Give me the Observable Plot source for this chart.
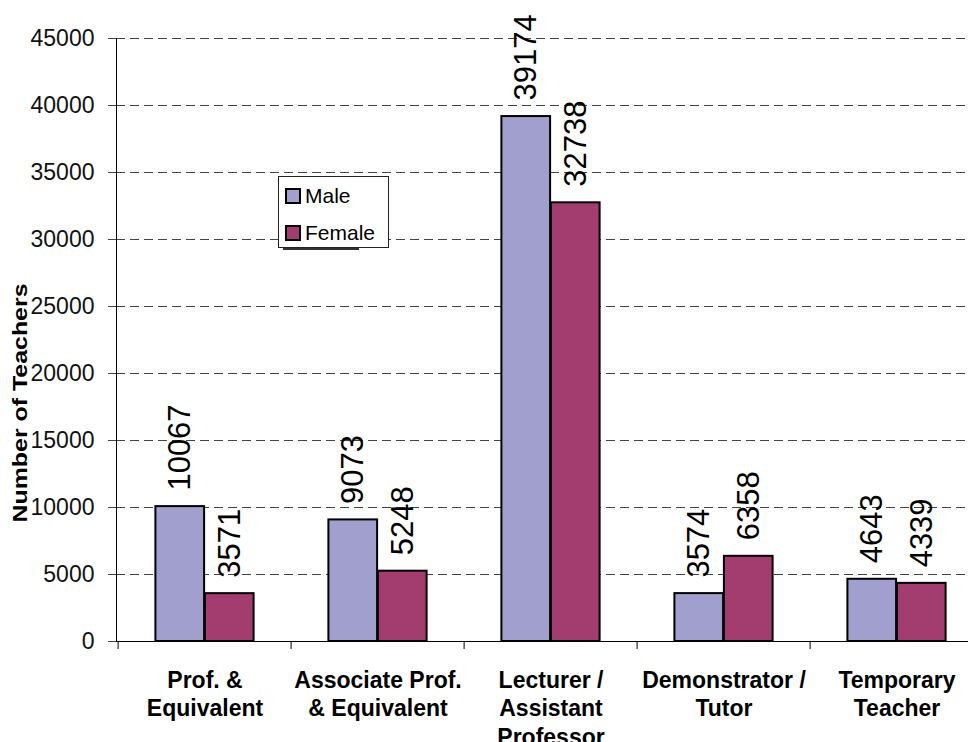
<!DOCTYPE html>
<html>
<head>
<meta charset="utf-8">
<script src="https://cdn.jsdelivr.net/npm/d3@7"></script>
<script src="https://cdn.jsdelivr.net/npm/@observablehq/plot@0.6"></script>
<style>
  html, body { margin: 0; padding: 0; background: #fff; overflow: hidden; }
  #wrap { position: relative; width: 968px; height: 742px; font-family: "Liberation Sans", Arial, sans-serif; }
  #legend { position: absolute; left: 278px; top: 176px; width: 109px; height: 70px; border: 1px solid #222; background: #fff; }
  #legend .row { position: absolute; left: 6px; display: flex; align-items: center; font-size: 21px; color: #000; }
  #legend .sw { width: 12px; height: 12px; border: 2px solid #000; margin-right: 4px; }
  #shadow { position: absolute; left: 283px; top: 248px; width: 76px; height: 2px; background: #333; }
</style>
</head>
<body>
<div id="wrap"></div>
<script>
const categories = ["Prof. &\nEquivalent", "Associate Prof.\n& Equivalent", "Lecturer /\nAssistant\nProfessor", "Demonstrator /\nTutor", "Temporary\nTeacher"];
const series = ["Male", "Female"];
const maleValues = [10067, 9073, 39174, 3574, 4643];
const femaleValues = [3571, 5248, 32738, 6358, 4339];
const yTicks = [0, 5000, 10000, 15000, 20000, 25000, 30000, 35000, 40000, 45000];
const colors = ["#a09fcd", "#a33d6f"];
const yTitle = "Number of Teachers";

const rows = categories.flatMap((c, i) => [
  {category: c, sex: series[0], value: maleValues[i]},
  {category: c, sex: series[1], value: femaleValues[i]}
]);
const maleRows = rows.filter(d => d.sex === series[0]);
const femaleRows = rows.filter(d => d.sex === series[1]);

const W = 968, H = 742, ML = 116, MR = -17, MT = 38, MB = 101;
const step = (W - MR - ML) / categories.length;
const bw = 49.5;
const gap = step / 2 - bw;
const font = "Liberation Sans, Arial, sans-serif";

const chart = Plot.plot({
  width: W, height: H,
  marginLeft: ML, marginRight: MR, marginTop: MT, marginBottom: MB,
  style: {fontFamily: font, background: "#fff", overflow: "visible"},
  x: {domain: categories, padding: 0, axis: null},
  y: {domain: [0, 45000], axis: null},
  color: {domain: series, range: colors},
  marks: [
    Plot.gridY(yTicks.slice(1), {stroke: "#444", strokeOpacity: 1, strokeDasharray: "9,5"}),
    Plot.axisY(yTicks, {tickSize: 8, tickPadding: 14, fontSize: 23, fill: "#111", stroke: "#444", tickFormat: d => String(d), label: null}),
    Plot.barY(maleRows, {x: "category", y: "value", fill: "sex", stroke: "#000", strokeWidth: 2, insetLeft: gap, insetRight: step / 2}),
    Plot.barY(femaleRows, {x: "category", y: "value", fill: "sex", stroke: "#000", strokeWidth: 2, insetLeft: step / 2, insetRight: gap}),
    Plot.frame({anchor: "left", stroke: "#000"}),
    Plot.ruleY([0], {stroke: "#000"}),
    Plot.axisX({tickSize: 8, tickFormat: () => "", dx: -step / 2, stroke: "#000", label: null}),
    Plot.axisX({tickSize: 0, tickPadding: 27, fontSize: 23, fontWeight: "bold", lineHeight: 1.22, fill: "#000", tickFormat: d => d, label: null}),
    Plot.text(maleRows, {x: "category", y: "value", text: d => String(d.value), rotate: -90, textAnchor: "start", dx: -bw / 2, dy: -16, fontSize: 31, fill: "#000"}),
    Plot.text(femaleRows, {x: "category", y: "value", text: d => String(d.value), rotate: -90, textAnchor: "start", dx: bw / 2, dy: -16, fontSize: 31, fill: "#000"}),
    Plot.text([yTitle], {frameAnchor: "left", textAnchor: "middle", dx: -96, dy: 63, rotate: -90, fontSize: 20, fontWeight: "bold", fill: "#000"})
  ]
});

d3.select(chart).selectAll("text")
  .filter(function() { return this.textContent === yTitle; })
  .attr("textLength", 239)
  .attr("lengthAdjust", "spacingAndGlyphs");

const wrap = document.getElementById("wrap");
wrap.appendChild(chart);

const shadow = document.createElement("div");
shadow.id = "shadow";
wrap.appendChild(shadow);
const legend = document.createElement("div");
legend.id = "legend";
series.forEach((s, i) => {
  const row = document.createElement("div");
  row.className = "row";
  row.style.top = (i === 0 ? 7 : 44) + "px";
  const sw = document.createElement("span");
  sw.className = "sw";
  sw.style.background = colors[i];
  const label = document.createElement("span");
  label.textContent = s;
  row.appendChild(sw);
  row.appendChild(label);
  legend.appendChild(row);
});
wrap.appendChild(legend);
</script>
</body>
</html>
